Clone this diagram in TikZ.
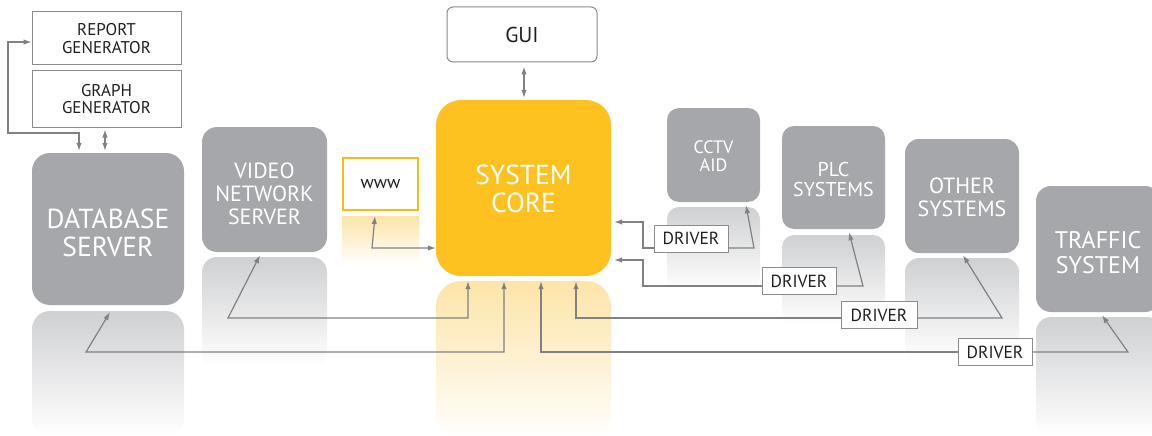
\documentclass[tikz,border=0pt]{standalone}
\usepackage{fontspec}
\setmainfont{PT Sans}
\usetikzlibrary{arrows.meta}
\definecolor{boxgrey}{HTML}{A6A7AA}
\definecolor{reflgrey}{HTML}{CFD0D2}
\definecolor{coreyel}{HTML}{FDC220}
\definecolor{wwwor}{HTML}{FDB913}
\definecolor{reflyel}{HTML}{FDE4A8}
\definecolor{linegrey}{HTML}{808183}
\definecolor{bordgrey}{HTML}{8A8B8D}
\definecolor{txtdark}{HTML}{231F20}
\tikzset{
  gbox/.style={fill=boxgrey, draw=none, inner sep=0pt},
  wtext/.style={text=white, align=center, inner sep=0pt},
  wbox/.style={fill=white, draw=bordgrey, line width=1pt, text=txtdark, align=center, inner sep=0pt},
  drvbox/.style={wbox, minimum width=74pt, minimum height=27pt, font=\fontsize{17.5}{17.5}\selectfont},
  darr/.style={draw=linegrey, line width=1.2pt, {Latex[length=8pt,width=5.5pt]}-{Latex[length=8pt,width=5.5pt]}},
  arr/.style={draw=linegrey, line width=1.2pt, -{Latex[length=8pt,width=5.5pt]}},
}
\begin{document}
\begin{tikzpicture}[x=1pt,y=-1pt]
\useasboundingbox (0,0) rectangle (1152,436);
% reflections
\shade[top color=reflgrey, bottom color=white, rounded corners=18pt] (32,311) rectangle (184,436);
\shade[top color=reflgrey, bottom color=white, rounded corners=15pt] (202,257) rectangle (327,367);
\shade[top color=reflyel, bottom color=white] (342,216) rectangle (419,265);
\shade[top color=reflyel, bottom color=white, rounded corners=25pt] (436,281) rectangle (611,440);
\shade[top color=reflgrey, bottom color=white, rounded corners=12pt] (667,207) rectangle (760,290);
\shade[top color=reflgrey, bottom color=white, rounded corners=12pt] (782,235) rectangle (885,325);
\shade[top color=reflgrey, bottom color=white, rounded corners=14pt] (905,258) rectangle (1019,360);
\shade[top color=reflgrey, bottom color=white, rounded corners=15pt] (1036,317) rectangle (1162,436);
% boxes
\node[wbox, minimum width=149pt, minimum height=53pt, font=\fontsize{17}{17.5}\selectfont] (report) at (106.5,38.5) {REPORT\\GENERATOR};
\node[wbox, minimum width=149pt, minimum height=56pt, font=\fontsize{17}{17.5}\selectfont] (graph) at (106.5,99) {GRAPH\\GENERATOR};
\node[gbox, minimum width=152pt, minimum height=152pt, rounded corners=18pt] (db) at (108,229) {};
\node[wtext, font=\fontsize{27.5}{28.5}\selectfont] (dbtext) at ([yshift=-4pt]db.center) {DATABASE\\SERVER};
\node[gbox, minimum width=125pt, minimum height=125pt, rounded corners=15pt] (vns) at (264.5,189.5) {};
\node[wtext, font=\fontsize{22}{23}\selectfont] (vnstext) at ([yshift=-4.5pt]vns.center) {VIDEO\\NETWORK\\SERVER};
\node[wbox, draw=wwwor, line width=2pt, minimum width=75pt, minimum height=52pt, font=\fontsize{18}{18}\selectfont] (www) at (380.5,184) {www};
\node[wbox, rounded corners=6pt, minimum width=150pt, minimum height=55pt, font=\fontsize{21.5}{21.5}\selectfont] (gui) at (522,34.5) {GUI};
\node[gbox, fill=coreyel, minimum width=175pt, minimum height=176pt, rounded corners=25pt] (core) at (523.5,188) {};
\node[wtext, font=\fontsize{27.5}{28.5}\selectfont] (coretext) at ([yshift=-1pt]core.center) {SYSTEM\\CORE};
\node[gbox, minimum width=93pt, minimum height=94pt, rounded corners=12pt] (cctv) at (713.5,155) {};
\node[wtext, font=\fontsize{18}{18.5}\selectfont] (cctvtext) at ([yshift=-1pt]cctv.center) {CCTV\\AID};
\node[gbox, minimum width=103pt, minimum height=103pt, rounded corners=12pt] (plc) at (833.5,177.5) {};
\node[wtext, font=\fontsize{20}{20.5}\selectfont] (plctext) at ([yshift=-2pt]plc.center) {PLC\\SYSTEMS};
\node[gbox, minimum width=114pt, minimum height=114pt, rounded corners=14pt] (other) at (962,196) {};
\node[wtext, font=\fontsize{22}{22.5}\selectfont] (othertext) at ([yshift=-1.5pt]other.center) {OTHER\\SYSTEMS};
\node[gbox, minimum width=124pt, minimum height=126pt, rounded corners=15pt] (traffic) at (1098,249) {};
\node[wtext, font=\fontsize{24}{24.5}\selectfont] (traffictext) at ([yshift=-3.5pt]traffic.center) {TRAFFIC\\SYSTEM};
\node[drvbox] (d1) at (691,238.5) {DRIVER};
\node[drvbox] (d2) at (799,281) {DRIVER};
\node[drvbox, minimum width=76pt] (d3) at (879,315) {DRIVER};
\node[drvbox] (d4) at (995,352) {DRIVER};
% connectors
\draw[darr] ([yshift=-3.5pt]report.west) -| (8,133) -| ([xshift=-29pt,yshift=2pt]db.north);
\draw[darr] ([xshift=-1.5pt,yshift=-2pt]graph.south) -- ([xshift=-3pt,yshift=2pt]db.north);
\draw[darr] ([xshift=2pt,yshift=-4pt]gui.south) -- ([xshift=0.5pt,yshift=2pt]core.north);
\draw[darr] ([xshift=-5.5pt,yshift=-5pt]www.south) -- (372,248) -- ([yshift=-60pt]core.west);
\draw[darr] ([xshift=-4.5pt,yshift=-3pt]vns.south) -- (228,318) -| ([xshift=-55.5pt,yshift=-5pt]core.south);
\draw[darr] ([xshift=2pt,yshift=-7pt]db.south) -- (86,352) -| ([xshift=-19.5pt,yshift=-5pt]core.south);
\draw[arr] (d4.west) -| ([xshift=17.5pt,yshift=-5pt]core.south);
\draw[arr] (d4.east) -- (1128,352) -- ([xshift=4pt,yshift=-3pt]traffic.south);
\draw[arr] ([yshift=-3pt]d3.west) -| ([xshift=52.5pt,yshift=-5pt]core.south);
\draw[arr] ([yshift=-3pt]d3.east) -- (1002,318) -- ([xshift=1pt,yshift=-2pt]other.south);
\draw[arr] ([yshift=-9.5pt]d1.west) -| (643,222) -- ([xshift=3pt,yshift=-34pt]core.east);
\draw[arr] ([yshift=-9.5pt]d1.east) -- (754,248) -- ([xshift=32.5pt,yshift=-3pt]cctv.south);
\draw[arr] ([yshift=-5pt]d2.west) -| (643,260) -- ([xshift=3pt,yshift=-72pt]core.east);
\draw[arr] ([yshift=-5pt]d2.east) -- (863,286) -- ([xshift=15.5pt,yshift=-3pt]plc.south);
\end{tikzpicture}
\end{document}
